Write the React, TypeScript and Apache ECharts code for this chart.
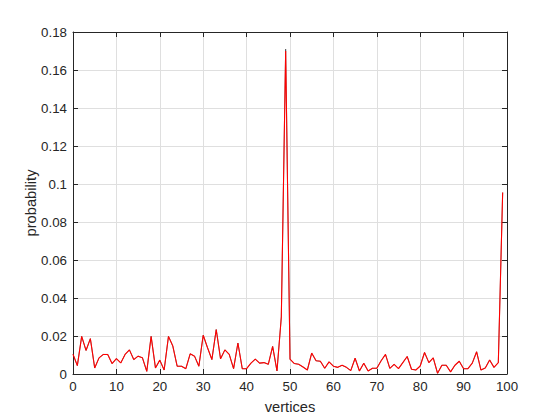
import React, { useEffect, useRef } from "react";
import * as echarts from "echarts";

const vertices: number[] = Array.from({ length: 100 }, (_, i) => i);

const redValues: number[] = [
  0.0104, 0.0044, 0.0198, 0.0124, 0.0186, 0.0032, 0.0085, 0.0103, 0.0103, 0.0055,
  0.0081, 0.0058, 0.0103, 0.0127, 0.0076, 0.0094, 0.0085, 0.0014, 0.0198, 0.0032,
  0.0073, 0.0021, 0.0198, 0.0147, 0.0041, 0.0041, 0.0028, 0.0106, 0.0094, 0.0041,
  0.0204, 0.0138, 0.0076, 0.0234, 0.008, 0.0127, 0.0103, 0.0028, 0.0163, 0.0028,
  0.0028, 0.0057, 0.0078, 0.0057, 0.006, 0.0051, 0.0145, 0.0016, 0.03, 0.17,
  0.0078, 0.0055, 0.0051, 0.0037, 0.0021, 0.011, 0.007, 0.0067, 0.003, 0.0064,
  0.0041, 0.0035, 0.0046, 0.0035, 0.0018, 0.0083, 0.0016, 0.0057, 0.0016, 0.003,
  0.003, 0.007, 0.0103, 0.003, 0.0051, 0.0028, 0.006, 0.0092, 0.0025, 0.0021,
  0.0042, 0.0113, 0.006, 0.0085, 0.0004, 0.0046, 0.0046, 0.0011, 0.0046, 0.0067,
  0.0028, 0.0028, 0.0057, 0.0117, 0.0021, 0.0032, 0.0074, 0.0035, 0.006, 0.0955,
];

const blackValues: number[] = [
  0.0104, 0.0044, 0.0198, 0.0124, 0.0186, 0.0032, 0.0085, 0.0103, 0.0103, 0.0055,
  0.0081, 0.0058, 0.0103, 0.0127, 0.0076, 0.0094, 0.0085, 0.0014, 0.0198, 0.0032,
  0.0073, 0.0021, 0.0198, 0.0147, 0.0041, 0.0041, 0.0028, 0.0106, 0.0094, 0.0041,
  0.0204, 0.0138, 0.0076, 0.0234, 0.008, 0.0127, 0.0103, 0.0028, 0.0163, 0.0028,
  0.0028, 0.0057, 0.0078, 0.0057, 0.006, 0.0051, 0.0145, 0.0016, 0.03, 0.171,
  0.0078, 0.0055, 0.0051, 0.0037, 0.0021, 0.011, 0.007, 0.0067, 0.003, 0.0064,
  0.0041, 0.0035, 0.0046, 0.0035, 0.0018, 0.0083, 0.0016, 0.0057, 0.0016, 0.003,
  0.003, 0.007, 0.0103, 0.003, 0.0051, 0.0028, 0.006, 0.0092, 0.0025, 0.0021,
  0.0042, 0.0113, 0.006, 0.0085, 0.0004, 0.0046, 0.0046, 0.0011, 0.0046, 0.0067,
  0.0028, 0.0028, 0.0057, 0.0117, 0.0021, 0.0032, 0.0074, 0.0035, 0.006, 0.0955,
];

const xTicks = { min: 0, max: 100, interval: 10 };
const yTicks = { min: 0, max: 0.18, interval: 0.02 };

const FONT = "'Liberation Sans', Arial, Helvetica, sans-serif";
const AXIS_COLOR = "#262626";
const GRID_COLOR = "#dfdfdf";

export default function App() {
  const ref = useRef<HTMLDivElement>(null);

  useEffect(() => {
    if (!ref.current) return;
    const chart = echarts.init(ref.current, null, { renderer: "svg" });

    const axisLine = { show: true, onZero: false, lineStyle: { color: AXIS_COLOR, width: 1 } };
    const axisTick = { show: true, inside: true, length: 5, lineStyle: { color: AXIS_COLOR, width: 1 } };

    chart.setOption({
      animation: false,
      backgroundColor: "#ffffff",
      grid: { left: 73, right: 53, top: 32, bottom: 46, containLabel: false },
      xAxis: [
        {
          type: "value",
          position: "bottom",
          ...xTicks,
          name: "vertices",
          nameLocation: "middle",
          nameGap: 25,
          nameMoveOverlap: false,
          nameTextStyle: { color: AXIS_COLOR, fontSize: 14.7, fontFamily: FONT },
          axisLine,
          axisTick,
          axisLabel: { color: AXIS_COLOR, fontSize: 13.3, fontFamily: FONT, margin: 6 },
          splitLine: { show: true, lineStyle: { color: GRID_COLOR, width: 1 } },
        },
        {
          type: "value",
          position: "top",
          ...xTicks,
          axisLine,
          axisTick,
          axisLabel: { show: false },
          splitLine: { show: false },
        },
      ],
      yAxis: [
        {
          type: "value",
          position: "left",
          ...yTicks,
          name: "probability",
          nameLocation: "middle",
          nameGap: 35,
          nameMoveOverlap: false,
          nameRotate: 90,
          nameTextStyle: { color: AXIS_COLOR, fontSize: 14.7, fontFamily: FONT },
          axisLine,
          axisTick,
          axisLabel: { color: AXIS_COLOR, fontSize: 13.3, fontFamily: FONT, margin: 6 },
          splitLine: { show: true, lineStyle: { color: GRID_COLOR, width: 1 } },
        },
        {
          type: "value",
          position: "right",
          ...yTicks,
          axisLine,
          axisTick,
          axisLabel: { show: false },
          splitLine: { show: false },
        },
      ],
      series: [
        {
          type: "line",
          name: "black",
          xAxisIndex: 0,
          yAxisIndex: 0,
          data: vertices.map((v, i) => [v, blackValues[i]]),
          showSymbol: false,
          symbol: "none",
          lineStyle: { color: "#000000", width: 0.5 },
          z: 2,
        },
        {
          type: "line",
          name: "red",
          xAxisIndex: 0,
          yAxisIndex: 0,
          data: vertices.map((v, i) => [v, redValues[i]]),
          showSymbol: false,
          symbol: "none",
          lineStyle: { color: "#ff0000", width: 1.1 },
          z: 3,
        },
      ],
    });

    return () => chart.dispose();
  }, []);

  return (
    <div
      ref={ref}
      style={{ position: "fixed", left: 0, top: 0, width: 560, height: 420 }}
    />
  );
}
